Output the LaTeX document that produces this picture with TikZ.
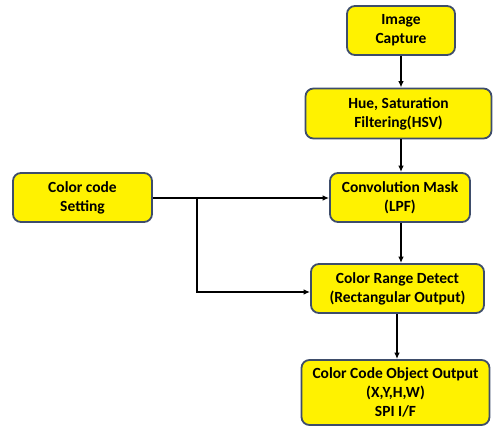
\documentclass[tikz,border=0pt]{standalone}
\usepackage{fontspec}
\setmainfont{Carlito}
\usetikzlibrary{arrows.meta}
\begin{document}
\begin{tikzpicture}[x=1pt,y=-1pt,
  blk/.style={draw=blk border,fill=yellow,line width=1.8pt,rounded corners=8pt,
    align=center,font=\fontsize{15.5}{19}\selectfont\bfseries,inner sep=0pt},
  flow/.style={line width=1.6pt,-{Latex[length=6.5pt,width=5.5pt]}}]
\definecolor{blk border}{HTML}{3E4D6B}
\useasboundingbox (0,0) rectangle (493,429);
% processing chain
\node[blk,minimum width=108pt,minimum height=49pt] (cap) at (401,30.5) {Image\\Capture};
\node[blk,minimum width=186pt,minimum height=50pt] (hsv) at (398.5,113.5) {Hue, Saturation\\Filtering(HSV)};
\node[blk,minimum width=140pt,minimum height=49pt] (conv) at (400,197.5) {Convolution Mask\\(LPF)};
\node[blk,minimum width=173pt,minimum height=49pt] (det) at (397.5,288.5) {Color Range Detect\\(Rectangular Output)};
\node[blk,minimum width=188pt,minimum height=65pt] (out) at (395.5,392.5) {Color Code Object Output\\(X,Y,H,W)\\SPI I/F};
% colour code input
\node[blk,minimum width=139pt,minimum height=49pt] (set) at (82.5,197.5) {Color code\\Setting};
\coordinate (br) at (197,198);
% connectors
\draw[flow] (cap.south -| 401,0) -- (hsv.north -| 401,0);
\draw[flow] (hsv.south -| 401,0) -- (conv.north -| 401,0);
\draw[flow] (conv.south -| 401,0) -- (det.north -| 401,0);
\draw[flow] (det.south -| 397,0) -- (out.north -| 397,0);
\draw[flow] (set.east |- br) -- (conv.west |- br);
\draw[flow] (br) -- (br |- 0,292) -- (det.west |- 0,292);
\end{tikzpicture}
\end{document}
